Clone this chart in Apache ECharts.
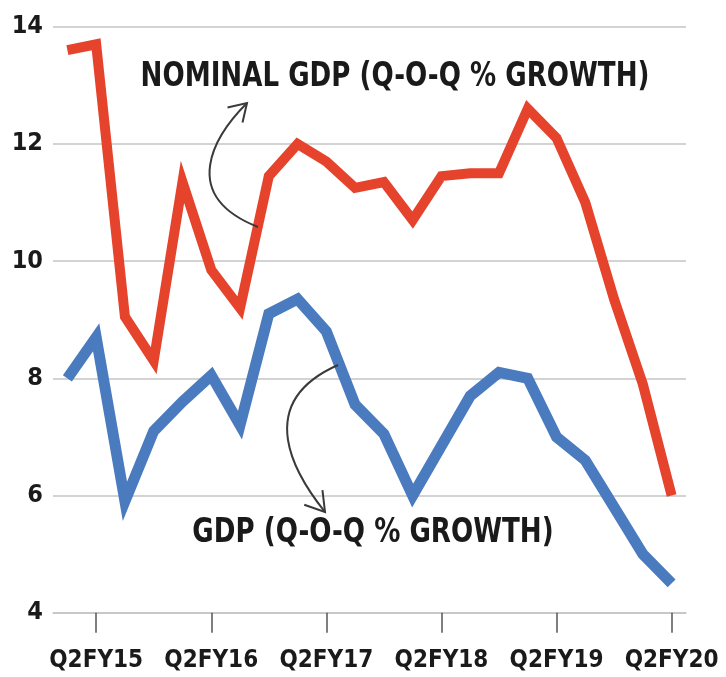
<!DOCTYPE html>
<html>
<head>
<meta charset="utf-8">
<script src="https://cdn.jsdelivr.net/npm/echarts@6/dist/echarts.min.js"></script>
<style>
  html, body { margin: 0; padding: 0; background: #ffffff; }
  #chart { width: 726px; height: 677px; }
</style>
</head>
<body>
<div id="chart"></div>
<script>
// ---- data ----
const quarters = [
  'Q1FY15','Q2FY15','Q3FY15','Q4FY15',
  'Q1FY16','Q2FY16','Q3FY16','Q4FY16',
  'Q1FY17','Q2FY17','Q3FY17','Q4FY17',
  'Q1FY18','Q2FY18','Q3FY18','Q4FY18',
  'Q1FY19','Q2FY19','Q3FY19','Q4FY19',
  'Q1FY20','Q2FY20'
];
const nominalGdp = [13.6, 13.7, 9.05, 8.3, 11.35, 9.85, 9.2, 11.45, 12.0, 11.7, 11.25, 11.35,
                    10.7, 11.45, 11.5, 11.5, 12.6, 12.1, 11.0, 9.35, 7.9, 6.0];
const realGdp = [8.0, 8.7, 5.9, 7.1, 7.6, 8.05, 7.2, 9.1, 9.35, 8.8, 7.55, 7.05,
                 6.0, 6.85, 7.7, 8.1, 8.0, 7.0, 6.6, 5.8, 5.0, 4.5];
const yTicks = { min: 4, max: 14, step: 2 };
const nominalLabel = 'NOMINAL GDP (Q-O-Q % GROWTH)';
const realLabel = 'GDP (Q-O-Q % GROWTH)';

const FONT = '"DejaVu Sans Condensed", "Liberation Sans Narrow", "Liberation Sans", sans-serif';
const isQ2 = (i) => i % 4 === 1;

function arrowHead(tip, dir, len, ang) {
  const n = Math.hypot(dir[0], dir[1]);
  const bx = -dir[0] / n, by = -dir[1] / n;
  const a = ang * Math.PI / 180;
  const w1 = [tip[0] + len * (bx * Math.cos(a) - by * Math.sin(a)), tip[1] + len * (bx * Math.sin(a) + by * Math.cos(a))];
  const w2 = [tip[0] + len * (bx * Math.cos(-a) - by * Math.sin(-a)), tip[1] + len * (bx * Math.sin(-a) + by * Math.cos(-a))];
  return [w1, tip, w2];
}

const arrowStyle = { stroke: '#3a3a3a', lineWidth: 2, fill: null };
const a1 = { x1: 258, y1: 227, cpx1: 177, cpy1: 195, cpx2: 215, cpy2: 135, x2: 247, y2: 103 };
const a2 = { x1: 338, y1: 365, cpx1: 250, cpy1: 404, cpx2: 297, cpy2: 477, x2: 325, y2: 512 };

const chart = echarts.init(document.getElementById('chart'), null, { renderer: 'canvas' });
chart.setOption({
  backgroundColor: '#ffffff',
  animation: false,
  grid: { left: 53, right: 40, top: 26.7, bottom: 64.3, containLabel: false, outerBoundsMode: 'none' },
  xAxis: {
    type: 'category',
    data: quarters,
    boundaryGap: true,
    axisLine: { show: true, lineStyle: { color: '#c4c4c4', width: 1.5 } },
    axisTick: { show: true, alignWithLabel: true, interval: (i) => isQ2(i), length: 20, lineStyle: { color: '#555', width: 1.5 } },
    axisLabel: {
      interval: (i) => isQ2(i),
      margin: 36,
      color: '#1a1a1a',
      fontFamily: FONT,
      fontWeight: 'bold',
      fontSize: 24
    },
    splitLine: { show: false }
  },
  yAxis: {
    type: 'value',
    min: yTicks.min,
    max: yTicks.max,
    interval: yTicks.step,
    axisLine: { show: false },
    axisTick: { show: false },
    axisLabel: { margin: 10, color: '#1a1a1a', fontFamily: FONT, fontWeight: 'bold', fontSize: 25 },
    splitLine: { show: true, lineStyle: { color: '#c4c4c4', width: 1.5 } }
  },
  series: [
    {
      name: nominalLabel,
      type: 'line',
      data: nominalGdp,
      symbol: 'none',
      lineStyle: { color: '#e6432d', width: 10, join: 'miter', cap: 'butt' },
      z: 3
    },
    {
      name: realLabel,
      type: 'line',
      data: realGdp,
      symbol: 'none',
      lineStyle: { color: '#4a7bbf', width: 11, join: 'miter', cap: 'butt' },
      z: 2
    }
  ],
  graphic: [
    { type: 'text', x: 395, y: 77, scaleX: 0.88, z: 10,
      style: { text: nominalLabel, fill: '#1a1a1a', font: 'bold 33px ' + FONT, textAlign: 'center', textVerticalAlign: 'middle' } },
    { type: 'text', x: 373, y: 533, scaleX: 0.88, z: 10,
      style: { text: realLabel, fill: '#1a1a1a', font: 'bold 33px ' + FONT, textAlign: 'center', textVerticalAlign: 'middle' } },
    { type: 'bezierCurve', z: 10, shape: a1, style: arrowStyle },
    { type: 'polyline', z: 10, shape: { points: arrowHead([a1.x2, a1.y2], [a1.x2 - a1.cpx2, a1.y2 - a1.cpy2], 20, 32) }, style: arrowStyle },
    { type: 'bezierCurve', z: 10, shape: a2, style: arrowStyle },
    { type: 'polyline', z: 10, shape: { points: arrowHead([a2.x2, a2.y2], [a2.x2 - a2.cpx2, a2.y2 - a2.cpy2], 22, 32) }, style: arrowStyle }
  ]
});
</script>
</body>
</html>
